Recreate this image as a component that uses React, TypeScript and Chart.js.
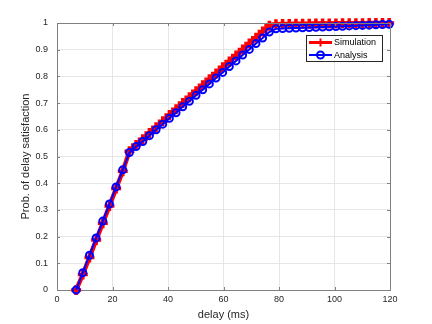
import React, { useEffect, useRef } from 'react';
import { Chart, registerables } from 'chart.js';

Chart.register(...registerables);

const delays = [
  6.9, 9.3, 11.7, 14.1, 16.5, 18.9, 21.3, 23.7, 26.1, 28.5, 30.9, 33.3, 35.7, 38.1, 40.5, 42.9,
  45.3, 47.7, 50.1, 52.5, 54.9, 57.3, 59.7, 62.1, 64.5, 66.9, 69.3, 71.7, 74.1, 76.5, 78.9, 81.3,
  83.7, 86.1, 88.5, 90.9, 93.3, 95.7, 98.1, 100.5, 102.9, 105.3, 107.7, 110.1, 112.5, 114.9, 117.3, 119.7,
];

const simulation = [
  0, 0.058, 0.122, 0.187, 0.25, 0.315, 0.38, 0.445, 0.52, 0.543, 0.565, 0.588, 0.61, 0.632, 0.655, 0.677,
  0.7, 0.722, 0.744, 0.767, 0.789, 0.811, 0.834, 0.856, 0.878, 0.901, 0.923, 0.945, 0.968, 0.99, 0.995, 0.996,
  0.996, 0.997, 0.997, 0.997, 0.998, 0.998, 0.998, 0.998, 0.999, 0.999, 0.999, 0.999, 1.0, 1.0, 1.0, 1.0,
];

const analysis = [
  0, 0.065, 0.13, 0.195, 0.258, 0.322, 0.386, 0.45, 0.515, 0.537, 0.556, 0.578, 0.6, 0.621, 0.643, 0.664,
  0.686, 0.707, 0.729, 0.75, 0.772, 0.794, 0.815, 0.837, 0.858, 0.88, 0.901, 0.923, 0.944, 0.966, 0.978, 0.979,
  0.98, 0.981, 0.982, 0.983, 0.984, 0.985, 0.986, 0.987, 0.988, 0.989, 0.99, 0.991, 0.992, 0.993, 0.994, 0.995,
];

const xTicks = [0, 20, 40, 60, 80, 100, 120];
const yTicks = [0, 0.1, 0.2, 0.3, 0.4, 0.5, 0.6, 0.7, 0.8, 0.9, 1];

const FONT = "'Liberation Sans', Arial, sans-serif";
const AXIS = '#808080';
const TEXT = '#262626';

const matlabBox = {
  id: 'matlabBox',
  afterDraw(chart: any) {
    const { ctx, chartArea } = chart;
    const { left, right, top, bottom } = chartArea;
    const xs = chart.scales.x;
    const ys = chart.scales.y;
    ctx.save();
    ctx.strokeStyle = AXIS;
    ctx.lineWidth = 1;
    ctx.beginPath();
    ctx.moveTo(left, top + 0.5);
    ctx.lineTo(right + 0.5, top + 0.5);
    ctx.lineTo(right + 0.5, bottom);
    for (const v of xTicks) {
      const px = Math.round(xs.getPixelForValue(v)) + 0.5;
      ctx.moveTo(px, bottom);
      ctx.lineTo(px, bottom - 3);
      ctx.moveTo(px, top);
      ctx.lineTo(px, top + 3);
    }
    for (const v of yTicks) {
      const py = Math.round(ys.getPixelForValue(v)) + 0.5;
      ctx.moveTo(left, py);
      ctx.lineTo(left + 3, py);
      ctx.moveTo(right, py);
      ctx.lineTo(right - 3, py);
    }
    ctx.stroke();

    // legend
    const bx = 306, by = 35, bw = 76, bh = 26;
    ctx.fillStyle = '#ffffff';
    ctx.fillRect(bx, by, bw, bh);
    ctx.strokeStyle = '#262626';
    ctx.lineWidth = 1;
    ctx.strokeRect(bx + 0.5, by + 0.5, bw, bh);
    const order = [1, 0];
    order.forEach((di, i) => {
      const ds = chart.data.datasets[di];
      const cy = by + 7.5 + i * 12.5;
      ctx.strokeStyle = ds.borderColor;
      ctx.lineWidth = di === 1 ? 3 : 2;
      ctx.beginPath();
      ctx.moveTo(bx + 3, cy);
      ctx.lineTo(bx + 26, cy);
      ctx.stroke();
      ctx.lineWidth = 2;
      ctx.beginPath();
      if (ds.pointStyle === 'circle') {
        ctx.arc(bx + 14.5, cy, 3.5, 0, Math.PI * 2);
      } else {
        ctx.moveTo(bx + 14.5 - 4, cy);
        ctx.lineTo(bx + 14.5 + 4, cy);
        ctx.moveTo(bx + 14.5, cy - 4);
        ctx.lineTo(bx + 14.5, cy + 4);
      }
      ctx.stroke();
      ctx.fillStyle = '#000000';
      ctx.font = `9px ${FONT}`;
      ctx.textBaseline = 'middle';
      ctx.textAlign = 'left';
      ctx.fillText(ds.label, bx + 28, cy + 0.5);
    });
    ctx.restore();
  },
};

export default function App() {
  const ref = useRef<HTMLCanvasElement | null>(null);

  useEffect(() => {
    if (!ref.current) return;
    const chart = new Chart(ref.current, {
      type: 'line',
      data: {
        datasets: [
          {
            label: 'Analysis',
            data: delays.map((d, i) => ({ x: d, y: analysis[i] })),
            borderColor: '#0000ff',
            borderWidth: 2,
            pointStyle: 'circle',
            pointRadius: 3.5,
            pointBorderWidth: 2,
            pointBorderColor: '#0000ff',
            pointBackgroundColor: 'rgba(0,0,0,0)',
            order: 1,
            clip: false as any,
          },
          {
            label: 'Simulation',
            data: delays.map((d, i) => ({ x: d, y: simulation[i] })),
            borderColor: '#ff0000',
            borderWidth: 4.5,
            pointStyle: 'cross',
            pointRadius: 5,
            pointBorderWidth: 3.5,
            pointBorderColor: '#ff0000',
            order: 2,
            clip: false as any,
          },
        ],
      },
      options: {
        responsive: false,
        animation: false,
        devicePixelRatio: 1,
        layout: { padding: { top: 23, right: 42, left: 0, bottom: 0 } },
        plugins: { legend: { display: false }, tooltip: { enabled: false } },
        scales: {
          x: {
            type: 'linear',
            min: 0,
            max: 120,
            afterBuildTicks: (s: any) => {
              s.ticks = xTicks.map((v) => ({ value: v }));
            },
            afterFit: (s: any) => {
              s.height = 34;
            },
            grid: { color: '#e6e6e6', drawTicks: false },
            border: { display: true, color: AXIS },
            ticks: {
              padding: 4,
              color: TEXT,
              font: { family: FONT, size: 9 },
              maxRotation: 0,
              callback: (v: any) => String(v),
            },
            title: {
              display: true,
              text: 'delay (ms)',
              color: TEXT,
              font: { family: FONT, size: 11 },
              padding: { top: 0, bottom: 2 },
            },
          },
          y: {
            type: 'linear',
            min: 0,
            max: 1,
            afterBuildTicks: (s: any) => {
              s.ticks = yTicks.map((v) => ({ value: v }));
            },
            afterFit: (s: any) => {
              s.width = 57;
            },
            grid: { color: '#e6e6e6', drawTicks: false },
            border: { display: true, color: AXIS },
            ticks: {
              padding: 9,
              color: TEXT,
              font: { family: FONT, size: 9 },
              callback: (v: any) => String(v),
            },
            title: {
              display: true,
              text: 'Prob. of delay satisfaction',
              color: TEXT,
              font: { family: FONT, size: 11 },
              padding: { top: 19, bottom: 0 },
            },
          },
        },
      },
      plugins: [matlabBox],
    });
    return () => chart.destroy();
  }, []);

  return (
    <div style={{ position: 'absolute', left: 0, top: 0, width: 432, height: 324, background: '#fff' }}>
      <canvas ref={ref} width={432} height={324} style={{ width: 432, height: 324, display: 'block' }} />
    </div>
  );
}
